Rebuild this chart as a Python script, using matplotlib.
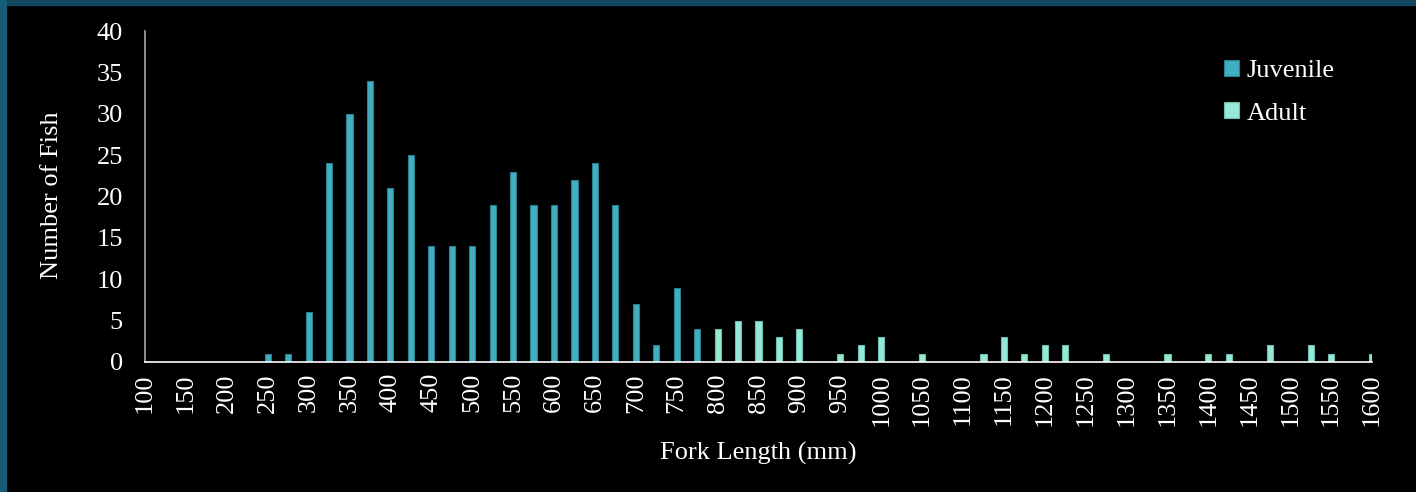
import numpy as np
import matplotlib
matplotlib.use('Agg')
import matplotlib.pyplot as plt
from matplotlib.patches import Rectangle

plt.rcParams['font.family'] = ['Liberation Serif', 'DejaVu Serif']

# fork length bins (mm) and counts
juv_len = [250, 275, 300, 325, 350, 375, 400, 425, 450, 475, 500, 525, 550,
           575, 600, 625, 650, 675, 700, 725, 750, 775]
juv_n = [1, 1, 6, 24, 30, 34, 21, 25, 14, 14, 14, 19, 23,
         19, 19, 22, 24, 19, 7, 2, 9, 4]

adult_len = [800, 825, 850, 875, 900, 950, 975, 1000, 1050, 1125, 1150, 1175,
             1200, 1225, 1275, 1350, 1400, 1425, 1475, 1525, 1550, 1600]
adult_n = [4, 5, 5, 3, 4, 1, 2, 3, 1, 1, 3, 1,
           2, 2, 1, 1, 1, 1, 2, 2, 1, 1]

xticks = list(range(100, 1601, 50))
yticks = list(range(0, 41, 5))

W, H = 1416, 492
fs = 19

fig = plt.figure(figsize=(W / 100, H / 100), dpi=100, facecolor='black')
ax = fig.add_axes([145 / W, 1 - 362 / H, (1372 - 145) / W, (362 - 31) / H])
ax.set_facecolor('black')

ax.bar(juv_len, juv_n, width=7.5, color='#42AEC2', edgecolor='#2B7F8E',
       linewidth=0.8, label='Juvenile')
ax.bar(adult_len, adult_n, width=7.5, color='#97E8D5', edgecolor='#6CBFAE',
       linewidth=0.8, label='Adult')

ax.set_xlim(100, 1600)
ax.set_ylim(0, 40)
ax.set_xticks(xticks)
ax.set_xticklabels([str(t) for t in xticks], rotation=90)
ax.set_yticks(yticks)
ax.tick_params(length=0, colors='white', labelsize=fs)
ax.tick_params(axis='x', pad=8)
ax.tick_params(axis='y', pad=16)

for s in ['top', 'right']:
    ax.spines[s].set_visible(False)
ax.spines['bottom'].set_color('white')
ax.spines['bottom'].set_linewidth(1.2)
ax.spines['left'].set_color('#A6A6A6')
ax.spines['left'].set_linewidth(1.2)

fig.text(758 / W, 1 - 453 / H, 'Fork Length (mm)', color='white', fontsize=fs,
         ha='center', va='center')
fig.text(52 / W, 1 - 195 / H, 'Number of Fish', color='white', fontsize=fs,
         ha='center', va='center', rotation=90)

leg = ax.legend(loc='upper left', bbox_to_anchor=(1211 / W, 1 - 47 / H),
                bbox_transform=fig.transFigure, frameon=False, fontsize=fs,
                handlelength=0.55, handleheight=0.55, handletextpad=0.3,
                labelspacing=0.75, borderpad=0)
for t in leg.get_texts():
    t.set_color('white')

# frame strips along top and left edges
fig.patches.append(Rectangle((0, 1 - 5 / H), 1, 5 / H, transform=fig.transFigure,
                             color='#12465F', zorder=10))
fig.patches.append(Rectangle((0, 0), 6 / W, 1, transform=fig.transFigure,
                             color='#165C78', zorder=10))

fig.savefig('out.png', dpi=100, facecolor='black')
